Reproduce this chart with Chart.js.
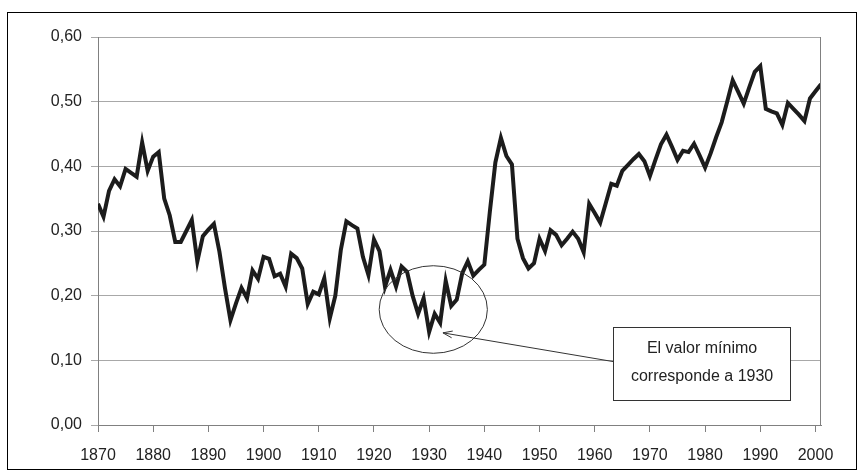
<!DOCTYPE html>
<html>
<head>
<meta charset="utf-8">
<script src="https://cdn.jsdelivr.net/npm/chart.js@4/dist/chart.umd.min.js"></script>
<style>
  body { margin: 0; background: #fff; }
  #wrap { width: 862px; height: 472px; }
</style>
</head>
<body>
<div id="wrap"><canvas id="ineqChart" width="862" height="472"></canvas></div>
<script>
// Years 1870-2001, one value per year
const years = [
    1870, 1871, 1872, 1873, 1874, 1875, 1876, 1877, 1878, 1879,
    1880, 1881, 1882, 1883, 1884, 1885, 1886, 1887, 1888, 1889,
    1890, 1891, 1892, 1893, 1894, 1895, 1896, 1897, 1898, 1899,
    1900, 1901, 1902, 1903, 1904, 1905, 1906, 1907, 1908, 1909,
    1910, 1911, 1912, 1913, 1914, 1915, 1916, 1917, 1918, 1919,
    1920, 1921, 1922, 1923, 1924, 1925, 1926, 1927, 1928, 1929,
    1930, 1931, 1932, 1933, 1934, 1935, 1936, 1937, 1938, 1939,
    1940, 1941, 1942, 1943, 1944, 1945, 1946, 1947, 1948, 1949,
    1950, 1951, 1952, 1953, 1954, 1955, 1956, 1957, 1958, 1959,
    1960, 1961, 1962, 1963, 1964, 1965, 1966, 1967, 1968, 1969,
    1970, 1971, 1972, 1973, 1974, 1975, 1976, 1977, 1978, 1979,
    1980, 1981, 1982, 1983, 1984, 1985, 1986, 1987, 1988, 1989,
    1990, 1991, 1992, 1993, 1994, 1995, 1996, 1997, 1998, 1999,
    2000, 2001
];

const values = [
    0.342, 0.322, 0.362, 0.380, 0.369, 0.396, 0.390, 0.384, 0.437, 0.393,
    0.415, 0.422, 0.350, 0.324, 0.283, 0.283, 0.300, 0.317, 0.253, 0.292,
    0.302, 0.311, 0.268, 0.212, 0.162, 0.188, 0.212, 0.196, 0.239, 0.226,
    0.260, 0.257, 0.230, 0.234, 0.214, 0.265, 0.258, 0.242, 0.187, 0.206,
    0.202, 0.227, 0.165, 0.200, 0.271, 0.315, 0.309, 0.304, 0.260, 0.232,
    0.287, 0.269, 0.214, 0.240, 0.214, 0.245, 0.237, 0.200, 0.172, 0.196,
    0.144, 0.172, 0.158, 0.223, 0.184, 0.194, 0.235, 0.253, 0.231, 0.240,
    0.248, 0.330, 0.406, 0.444, 0.416, 0.403, 0.288, 0.258, 0.242, 0.250,
    0.288, 0.269, 0.301, 0.294, 0.278, 0.288, 0.299, 0.288, 0.267, 0.342,
    0.328, 0.313, 0.343, 0.373, 0.370, 0.393, 0.402, 0.411, 0.419, 0.408,
    0.385, 0.410, 0.434, 0.449, 0.430, 0.410, 0.424, 0.422, 0.435, 0.417,
    0.398, 0.420, 0.445, 0.468, 0.500, 0.533, 0.515, 0.497, 0.522, 0.546,
    0.555, 0.489, 0.485, 0.482, 0.464, 0.498, 0.489, 0.480, 0.470, 0.505,
    0.516, 0.527
];

const noteLines = ['El valor mínimo', 'corresponde a 1930'];
const minYear = 1930;

const FONT = '"Liberation Sans", Arial, sans-serif';

// frame, plot border and the 1930 note
const extras = {
    id: 'extras',
    afterDraw(chart) {
        const ctx = chart.ctx;
        const a = chart.chartArea;
        const xs = chart.scales.x;
        const ys = chart.scales.y;
        ctx.save();
        // outer frame
        ctx.strokeStyle = '#000';
        ctx.lineWidth = 1;
        ctx.strokeRect(7.5, 12.5, 849, 457);
        // plot area right edge
        ctx.strokeStyle = '#808080';
        ctx.beginPath();
        ctx.moveTo(Math.round(a.right) - 0.5, a.top);
        ctx.lineTo(Math.round(a.right) - 0.5, a.bottom);
        ctx.stroke();

        // ellipse round the minimum
        ctx.strokeStyle = '#333';
        ctx.beginPath();
        ctx.ellipse(xs.getPixelForValue(minYear + 0.75), ys.getPixelForValue(0.1786),
            xs.getPixelForValue(minYear + 9.8) - xs.getPixelForValue(minYear),
            ys.getPixelForValue(0) - ys.getPixelForValue(0.0677), 0, 0, Math.PI * 2);
        ctx.stroke();

        // note box
        const bx0 = xs.getPixelForValue(1963.4), bx1 = xs.getPixelForValue(1995.5);
        const by0 = ys.getPixelForValue(0.151), by1 = ys.getPixelForValue(0.0376);
        ctx.fillStyle = '#fff';
        ctx.fillRect(bx0, by0, bx1 - bx0, by1 - by0);
        ctx.strokeRect(Math.round(bx0) + 0.5, Math.round(by0) + 0.5, Math.round(bx1 - bx0), Math.round(by1 - by0));
        ctx.fillStyle = '#222';
        ctx.font = '16px ' + FONT;
        ctx.textAlign = 'center';
        ctx.textBaseline = 'middle';
        const cx = (bx0 + bx1) / 2;
        const cy = (by0 + by1) / 2;
        ctx.fillText(noteLines[0], cx, cy - 15);
        ctx.fillText(noteLines[1], cx, cy + 13);

        // arrow to the minimum
        const sx = bx0, sy = ys.getPixelForValue(0.098);
        const tx = xs.getPixelForValue(minYear + 2.5), ty = ys.getPixelForValue(0.1425);
        ctx.beginPath();
        ctx.moveTo(sx, sy);
        ctx.lineTo(tx, ty);
        const ang = Math.atan2(sy - ty, sx - tx);
        ctx.moveTo(tx + 10 * Math.cos(ang - 0.35), ty + 10 * Math.sin(ang - 0.35));
        ctx.lineTo(tx, ty);
        ctx.lineTo(tx + 10 * Math.cos(ang + 0.35), ty + 10 * Math.sin(ang + 0.35));
        ctx.stroke();
        ctx.restore();
    }
};

const ctx = document.getElementById('ineqChart').getContext('2d');
const ineqChart = new Chart(ctx, {
    type: 'line',
    data: {
        datasets: [{
            data: years.map((yr, i) => ({ x: yr, y: values[i] })),
            borderColor: '#1c1c1c',
            borderWidth: 4,
            pointRadius: 0,
            tension: 0,
            fill: false
        }]
    },
    options: {
        responsive: false,
        animation: false,
        layout: { padding: { top: 37, right: 41, left: 0, bottom: 0 } },
        plugins: {
            legend: { display: false },
            tooltip: { enabled: false }
        },
        scales: {
            x: {
                type: 'linear',
                min: 1870,
                max: 2001,
                afterFit: (s) => { s.height = 47; },
                ticks: {
                    stepSize: 10,
                    includeBounds: false,
                    maxRotation: 0,
                    padding: 14,
                    color: '#222',
                    font: { family: FONT, size: 16 },
                    callback: (v) => String(v)
                },
                grid: { drawOnChartArea: false, tickLength: 7, color: '#808080' },
                border: { color: '#808080' }
            },
            y: {
                min: 0,
                max: 0.6,
                afterFit: (s) => { s.width = 98; },
                ticks: {
                    stepSize: 0.1,
                    padding: 9,
                    color: '#222',
                    font: { family: FONT, size: 16 },
                    callback: (v) => v.toFixed(2).replace('.', ',')
                },
                grid: { color: '#a8a8a8', tickLength: 7 },
                border: { color: '#808080' }
            }
        }
    },
    plugins: [extras]
});
</script>
</body>
</html>
